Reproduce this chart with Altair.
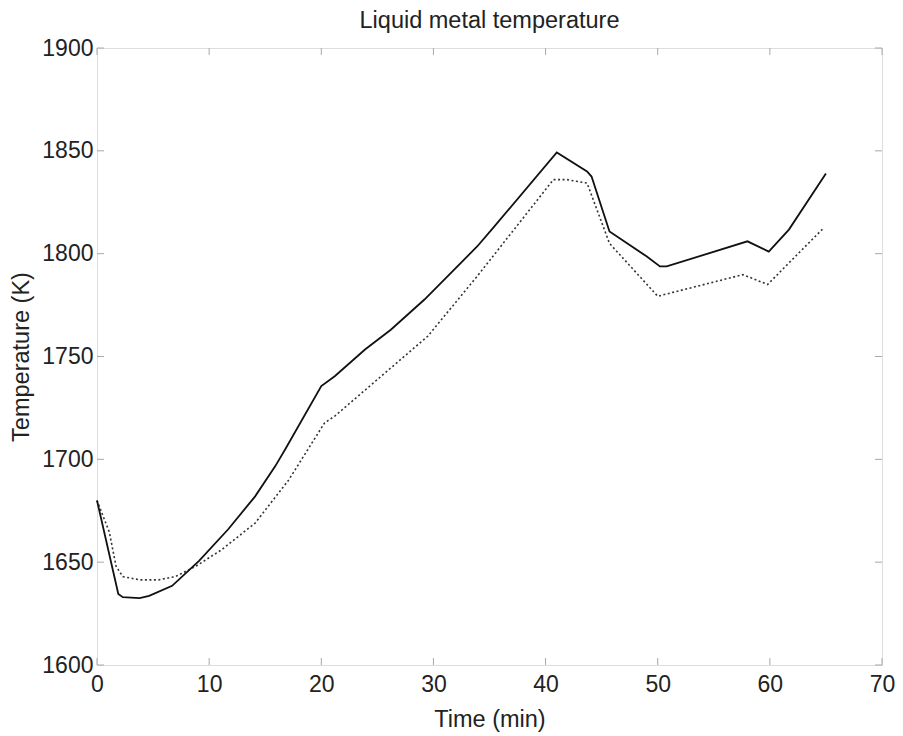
import altair as alt
import pandas as pd

# Solid curve (Time in min, Temperature in K)
solid_t = [0, 1.9, 2.3, 3.8, 4.65, 6.7, 9.1, 11.7, 14.1, 15.9, 16.8, 20.0, 21.2, 23.9,
           26.2, 29.2, 33.9, 35.4, 41.0, 43.7, 44.1, 45.7, 49.0, 50.2, 50.8, 58.0,
           59.9, 61.7, 65.0]
solid_T = [1680, 1634.5, 1633, 1632.5, 1633.6, 1638.5, 1650.6, 1666, 1682, 1696.7,
           1705, 1735.6, 1740.4, 1753.4, 1763, 1777.7, 1803.5, 1813, 1849.2, 1840,
           1837.5, 1810.8, 1798.7, 1793.8, 1793.8, 1806, 1801, 1811.7, 1839]

# Dotted curve
dot_t = [0, 1.1, 1.7, 2.3, 3.8, 5.5, 7.0, 8.8, 11.1, 14.1, 17.1, 20.3, 21.2, 25.0,
         29.5, 33.9, 40.7, 41.9, 43.7, 45.7, 50.0, 57.6, 59.8, 61.7, 64.8]
dot_T = [1680, 1664.6, 1648, 1643, 1641.4, 1641.4, 1643, 1648, 1656, 1669, 1690,
         1717.8, 1721, 1738.8, 1759.9, 1789, 1836, 1836, 1834.3, 1805, 1779.3,
         1789.8, 1785, 1795.5, 1812.5]

x_ticks = [0, 10, 20, 30, 40, 50, 60, 70]
y_ticks = [1600, 1650, 1700, 1750, 1800, 1850, 1900]

W, H = 785, 617
FONT = "Liberation Sans"
BOX = "#a8a8a8"
TXT = "#222"

df_s = pd.DataFrame({"t": solid_t, "T": solid_T})
df_d = pd.DataFrame({"t": dot_t, "T": dot_T})
df_xt = pd.DataFrame({"t": x_ticks})
df_yt = pd.DataFrame({"T": y_ticks})

xscale = alt.Scale(domain=[0, 70], nice=False, zero=False)
yscale = alt.Scale(domain=[1600, 1900], nice=False, zero=False)

xaxis = alt.Axis(values=x_ticks, title="Time (min)", ticks=False, domain=False, grid=False,
                 format="d", labelFlush=False,
                 labelFont=FONT, labelFontSize=23, labelColor=TXT, labelPadding=8,
                 titleFont=FONT, titleFontSize=23.5, titleFontWeight="normal", titleColor=TXT,
                 titleBaseline="alphabetic", titleY=61)
yaxis = alt.Axis(values=y_ticks, title="Temperature (K)", ticks=False, domain=False, grid=False,
                 format="d", labelFlush=False,
                 labelFont=FONT, labelFontSize=23, labelColor=TXT, labelPadding=4,
                 titleFont=FONT, titleFontSize=23.5, titleFontWeight="normal", titleColor=TXT,
                 titleBaseline="alphabetic", titleX=-69)

solid = alt.Chart(df_s).mark_line(color="#111", strokeWidth=1.8).encode(
    x=alt.X("t:Q", scale=xscale, axis=xaxis),
    y=alt.Y("T:Q", scale=yscale, axis=yaxis),
    order="t:Q",
)
dotted = alt.Chart(df_d).mark_line(color="#333", strokeWidth=1.6, strokeDash=[2, 2.5]).encode(
    x=alt.X("t:Q", scale=xscale),
    y=alt.Y("T:Q", scale=yscale),
    order="t:Q",
)

tl = 7
xt_bot = alt.Chart(df_xt).mark_rule(color=BOX, strokeWidth=1).encode(
    x=alt.X("t:Q", scale=xscale), y=alt.value(H), y2=alt.value(H - tl))
xt_top = alt.Chart(df_xt).mark_rule(color=BOX, strokeWidth=1).encode(
    x=alt.X("t:Q", scale=xscale), y=alt.value(0), y2=alt.value(tl))
yt_left = alt.Chart(df_yt).mark_rule(color=BOX, strokeWidth=1).encode(
    y=alt.Y("T:Q", scale=yscale), x=alt.value(0), x2=alt.value(tl))
yt_right = alt.Chart(df_yt).mark_rule(color=BOX, strokeWidth=1).encode(
    y=alt.Y("T:Q", scale=yscale), x=alt.value(W), x2=alt.value(W - tl))

chart = alt.layer(xt_bot, xt_top, yt_left, yt_right, dotted, solid).properties(
    width=W, height=H,
    title=alt.TitleParams("Liquid metal temperature", font=FONT, fontSize=23.5,
                          fontWeight="normal", color=TXT, anchor="middle",
                          baseline="alphabetic", offset=2, dy=16),
    autosize=alt.AutoSizeParams(type="none"),
    padding={"left": 89, "top": 40, "right": 13, "bottom": 70},
).configure_view(stroke=BOX, strokeWidth=1.2).configure(background="white")

chart.save("out.html", embed_options={"renderer": "svg", "actions": False})
